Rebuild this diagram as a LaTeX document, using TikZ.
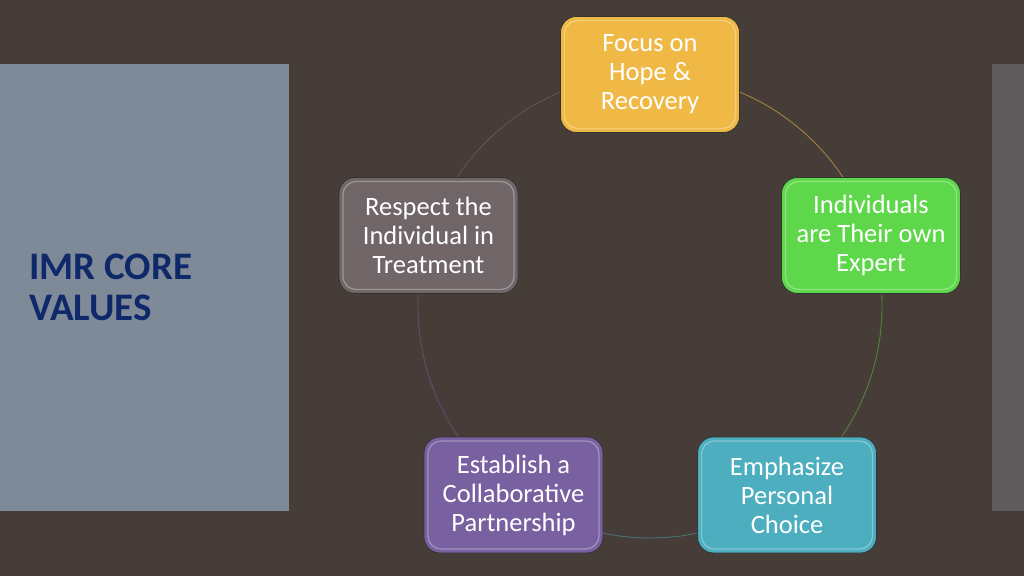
\documentclass[tikz,border=0pt]{standalone}
\usepackage{fontspec}
\setmainfont{Carlito}
\definecolor{bg}{RGB}{70,61,56}
\definecolor{leftpanel}{RGB}{127,138,152}
\definecolor{rightpanel}{RGB}{95,92,94}
\definecolor{titleblue}{RGB}{15,40,105}
\definecolor{cyellow}{RGB}{240,185,70}
\definecolor{cgreen}{RGB}{95,215,75}
\definecolor{cgray}{RGB}{112,102,104}
\definecolor{cpurple}{RGB}{121,96,160}
\definecolor{cteal}{RGB}{76,174,190}
\tikzset{
  box/.style={draw=black!80, line width=0.8pt, rounded corners=16pt,
    minimum width=179pt, minimum height=116pt, inner sep=0pt,
    align=center, text=white, font=\fontsize{26.5}{29}\selectfont,
    path picture={\draw[white, opacity=0.3, line width=1.3pt, rounded corners=13pt]
      ([shift={(4pt,-4pt)}]path picture bounding box.north west) rectangle
      ([shift={(-4pt,4pt)}]path picture bounding box.south east);}},
  arcline/.style={line width=0.9pt}
}
\begin{document}
\begin{tikzpicture}[x=1pt,y=1pt]
\fill[bg] (0,0) rectangle (1024,576);
\useasboundingbox (0,0) rectangle (1024,576);
\fill[leftpanel] (0,65) rectangle (289,512);
\fill[rightpanel] (992,65) rectangle (1024,512);
\node[anchor=west, align=left, inner sep=0pt, text=titleblue,
  font=\bfseries\fontsize{39}{41}\selectfont] (title) at (29,289) {IMR CORE\\VALUES};
\coordinate (c) at (650,270);
\draw[arcline, color=cyellow!55!bg] ([shift={(90:232pt)}]c) arc[start angle=90, end angle=18, radius=232pt];
\draw[arcline, color=cgreen!45!bg] ([shift={(18:232pt)}]c) arc[start angle=18, end angle=-54, radius=232pt];
\draw[arcline, color=cteal!45!bg] ([shift={(-54:232pt)}]c) arc[start angle=-54, end angle=-126, radius=232pt];
\draw[arcline, color=cpurple!50!bg] ([shift={(-126:232pt)}]c) arc[start angle=-126, end angle=-198, radius=232pt];
\draw[arcline, color=cgray!60!bg] ([shift={(162:232pt)}]c) arc[start angle=162, end angle=90, radius=232pt];
\node[box, fill=cyellow] (top) at (650,501.5) {Focus on\\Hope \&\\Recovery};
\node[box, fill=cgreen] (right) at (871,340.5) {Individuals\\are Their own\\Expert};
\node[box, fill=cteal] (bright) at (787,81) {Emphasize\\Personal\\Choice};
\node[box, fill=cpurple] (bleft) at (513.5,81) {Establish a\\Collaborative\\Partnership};
\node[box, fill=cgray] (left) at (428.5,340.5) {Respect the\\Individual in\\Treatment};
\end{tikzpicture}
\end{document}
